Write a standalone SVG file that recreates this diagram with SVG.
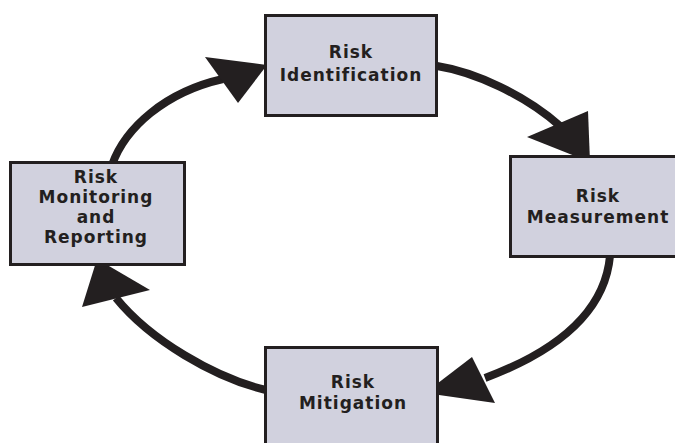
<svg xmlns="http://www.w3.org/2000/svg" width="675" height="443" viewBox="0 0 675 443">
<style>
.box{fill:#d1d1de;stroke:#231f20;stroke-width:3}
.lbl{font-family:"DejaVu Sans",Verdana,sans-serif;font-weight:bold;font-size:17px;fill:#231f20;text-anchor:middle;letter-spacing:1px}
.arc{fill:none;stroke:#231f20;stroke-width:8}
.head{fill:#231f20}
</style>
<rect width="675" height="443" fill="#ffffff"/>
<g id="connectors">
<path class="arc" d="M112,165 C125,128 165,92 223,79"/>
<polygon class="head" points="205,57 238,103 267,65"/>
<path class="arc" d="M437,66 C475,72 525,95 560,126"/>
<polygon class="head" points="527,137 588,111 590,162"/>
<path class="arc" d="M610,256 C605,310 560,350 485,378"/>
<polygon class="head" points="472,357 495,403 425,393"/>
<path class="arc" d="M266,390 C215,378 150,340 116,298"/>
<polygon class="head" points="82,307 150,290 97,259"/>
</g>
<g id="risk-identification">
<rect class="box" x="265.5" y="15.5" width="171" height="100"/>
<text class="lbl" x="351" y="58">Risk</text>
<text class="lbl" x="351" y="81">Identification</text>
</g>
<g id="risk-measurement">
<rect class="box" x="510.5" y="156.5" width="180" height="100"/>
<text class="lbl" x="598" y="202">Risk</text>
<text class="lbl" x="598" y="223">Measurement</text>
</g>
<g id="risk-monitoring">
<rect class="box" x="10.5" y="162.5" width="174" height="102"/>
<text class="lbl" x="96" y="183">Risk</text>
<text class="lbl" x="96" y="203">Monitoring</text>
<text class="lbl" x="96" y="223">and</text>
<text class="lbl" x="96" y="243">Reporting</text>
</g>
<g id="risk-mitigation">
<rect class="box" x="265.5" y="347.5" width="172" height="110"/>
<text class="lbl" x="353" y="388">Risk</text>
<text class="lbl" x="353" y="409">Mitigation</text>
</g>
</svg>
